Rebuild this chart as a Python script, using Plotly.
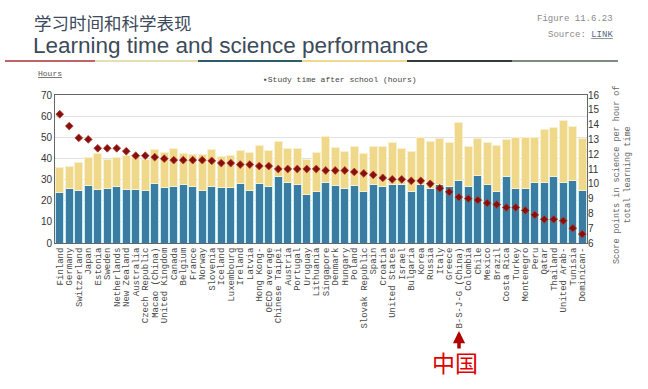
import plotly.graph_objects as go

countries = ["Finland", "Germany", "Switzerland", "Japan", "Estonia", "Sweden", "Netherlands",
             "New Zealand", "Australia", "Czech Republic", "Macao (China)", "United Kingdom",
             "Canada", "Belgium", "France", "Norway", "Slovenia", "Iceland", "Luxembourg",
             "Ireland", "Latvia", "Hong Kong-", "OECD average", "Chinese Taipei", "Austria",
             "Portugal", "Uruguay", "Lithuania", "Singapore", "Denmark", "Hungary", "Poland",
             "Slovak Republic", "Spain", "Croatia", "United States", "Israel", "Bulgaria",
             "Korea", "Russia", "Italy", "Greece", "B-S-J-G (China)", "Colombia", "Chile",
             "Mexico", "Brazil", "Costa Rica", "Turkey", "Montenegro", "Peru", "Qatar",
             "Thailand", "United Arab-", "Tunisia", "Dominican-"]

school_hours = [23.8, 25.7, 25.0, 27.3, 25.3, 25.7, 26.5, 25.3, 25.4, 25.0, 28.1, 26.1, 26.9, 27.5,
                26.9, 24.8, 26.7, 26.4, 26.4, 28.1, 24.8, 28.1, 26.7, 31.3, 28.8, 27.8, 23.1, 24.5,
                28.4, 27.0, 25.7, 27.2, 24.2, 27.8, 26.9, 27.8, 27.6, 24.2, 27.6, 25.7, 27.8, 26.5,
                29.7, 26.5, 31.8, 27.6, 24.5, 31.3, 25.7, 25.9, 28.6, 28.6, 31.4, 28.4, 29.7, 24.6]

after_school_hours = [11.9, 10.6, 13.2, 13.3, 17.0, 13.8, 14.1, 15.9, 15.5, 14.5, 16.0, 16.9, 17.6,
                      14.8, 15.0, 16.9, 17.4, 14.4, 15.1, 15.5, 18.2, 17.9, 17.1, 16.6, 15.7, 17.1,
                      16.6, 18.3, 21.8, 18.2, 17.7, 18.3, 18.1, 17.9, 18.6, 19.6, 17.3, 19.1, 22.5,
                      22.3, 21.6, 21.2, 27.2, 19.0, 17.8, 19.8, 21.6, 17.8, 24.1, 23.9, 21.2, 25.1,
                      23.3, 29.4, 25.3, 24.7]

score_per_hour = [14.7, 13.9, 13.1, 13.0, 12.4, 12.4, 12.4, 12.2, 11.9, 11.9, 11.8, 11.7, 11.6, 11.6,
                  11.6, 11.6, 11.55, 11.4, 11.4, 11.3, 11.3, 11.2, 11.2, 11.0, 11.0, 11.0, 11.0, 11.0,
                  10.9, 10.9, 10.9, 10.8, 10.7, 10.6, 10.4, 10.3, 10.3, 10.2, 10.2, 10.0, 9.7, 9.45,
                  9.1, 9.0, 8.9, 8.7, 8.6, 8.4, 8.4, 8.2, 7.9, 7.6, 7.6, 7.5, 7.0, 6.6]

left_ticks = [0, 10, 20, 30, 40, 50, 60, 70]
right_ticks = [6, 7, 8, 9, 10, 11, 12, 13, 14, 15, 16]

# plot-area pixel geometry (for placing annotations in paper coords)
L, R, T, B = 55, 587, 95, 243
W, H = 648, 389


def px(x):
    return (x - L) / (R - L)


def py(y):
    return (B - y) / (B - T)


fig = go.Figure()
fig.add_trace(go.Bar(x=countries, y=school_hours, marker=dict(color="#3b7ca3", line=dict(color="#c2eef2", width=1)),
                     name="Intended learning time at school", showlegend=False))
fig.add_trace(go.Bar(x=countries, y=after_school_hours, marker=dict(color="#f0d88a", line=dict(color="#f8f0cf", width=1)),
                     name="Study time after school (hours)", showlegend=False))
fig.add_trace(go.Scatter(x=countries, y=score_per_hour, yaxis="y2", mode="markers",
                         marker=dict(symbol="diamond", size=6, color="#861010",
                                     line=dict(color="#b4402e", width=0.8)),
                         showlegend=False))

mono = "Liberation Mono"
annotations = [
    dict(x=px(32), y=py(22), text="学习时间和科学表现", xanchor="left", yanchor="middle",
         font=dict(family="Noto Sans CJK SC", size=17.5, color="#3c4a5a")),
    dict(x=px(31), y=py(46), text="Learning time and science performance", xanchor="left", yanchor="middle",
         font=dict(family="Liberation Sans", size=22.5, color="#3c4a5a")),
    dict(x=px(615), y=py(19), text="Figure 11.6.23", xanchor="right", yanchor="middle",
         font=dict(family=mono, size=9, color="#8a8a8a")),
    dict(x=px(615), y=py(35), text="Source: <u><span style='color:#5a6a8a'>LINK</span></u>", xanchor="right", yanchor="middle",
         font=dict(family=mono, size=9, color="#8a8a8a")),
    dict(x=px(36), y=py(73), text="<u>Hours</u>", xanchor="left", yanchor="middle",
         font=dict(family=mono, size=8, color="#555555")),
    dict(x=px(340), y=py(79), text="▪Study time after school (hours)", xanchor="center", yanchor="middle",
         font=dict(family=mono, size=8, color="#444444")),
    dict(x=px(622), y=py(175), text="Score points in science per hour of<br>total learning time",
         textangle=-90, xanchor="center", yanchor="middle",
         font=dict(family=mono, size=8.5, color="#666666")),
    dict(x=px(455), y=py(362), text="中国", xanchor="center", yanchor="middle",
         font=dict(family="Noto Sans CJK SC", size=23, color="#e00000")),
    dict(x=px(459), y=py(331), ax=0, ay=19, text="",
         showarrow=True, arrowhead=2, arrowsize=0.7, arrowwidth=3.5, arrowcolor="#b00000"),
]
for a in annotations:
    a.setdefault("xref", "paper")
    a.setdefault("yref", "paper")
    a.setdefault("showarrow", False)

seg_colors = ["#c0646c", "#e6dfb4", "#2e5c68", "#f0d890", "#333a3a", "#7c8c82"]
seg_edges = [5, 95, 198, 302, 407, 512, 618]
shapes = []
for i, c in enumerate(seg_colors):
    shapes.append(dict(type="line", xref="paper", yref="paper",
                       x0=px(seg_edges[i]), x1=px(seg_edges[i + 1]), y0=py(61), y1=py(61),
                       line=dict(color=c, width=2)))

fig.update_layout(
    width=W, height=H,
    margin=dict(l=L, r=W - R, t=T, b=H - B),
    paper_bgcolor="white", plot_bgcolor="white",
    barmode="stack", bargap=0.2,
    annotations=annotations, shapes=shapes,
    xaxis=dict(type="category", tickangle=-90, showline=True, mirror=True, linecolor="#666666",
               tickmode="array", tickvals=countries, ticktext=countries,
               ticks="", tickfont=dict(family=mono, size=9, color="#4a4a4a"),
               range=[-0.5, len(countries) - 0.5], automargin=False),
    yaxis=dict(range=[0, 70], tickvals=left_ticks, showgrid=True, gridcolor="#e2e2e2",
               showline=True, mirror=True, linecolor="#666666", ticks="", automargin=False,
               tickfont=dict(family="Liberation Sans", size=10, color="#333333"), zeroline=False),
    yaxis2=dict(range=[6, 16], tickvals=right_ticks, overlaying="y", side="right", showgrid=False,
                ticks="", automargin=False,
                tickfont=dict(family="Liberation Sans", size=10, color="#333333"), zeroline=False),
    font=dict(family="Liberation Sans"),
)

fig.write_html("out.html", config={"displayModeBar": False},
               post_script="document.body.style.margin='0';document.body.style.overflow='hidden';")
